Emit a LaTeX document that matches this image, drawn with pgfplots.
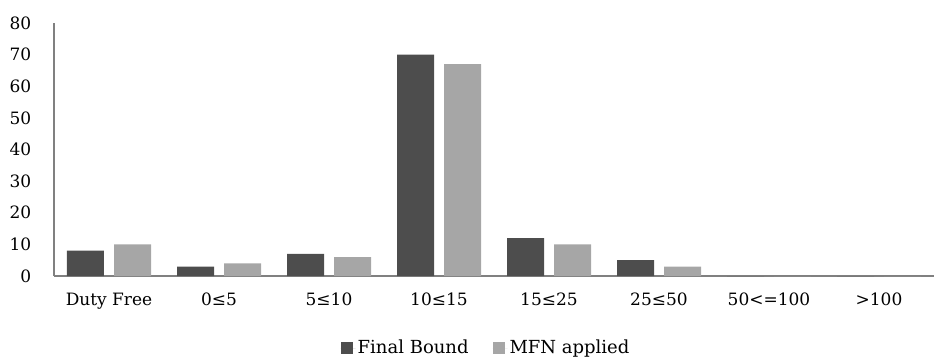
\documentclass[border=0pt]{standalone}
\usepackage{fontspec}
\setmainfont{DejaVu Serif}
\usepackage{pgfplots}
\pgfplotsset{compat=1.18}

\definecolor{darkbar}{HTML}{4D4D4D}
\definecolor{lightbar}{HTML}{A6A6A6}
\definecolor{axisgray}{HTML}{808080}

\begin{document}
\fontsize{17pt}{20pt}\selectfont
\begin{tikzpicture}
\begin{axis}[
  scale only axis,
  width=880pt, height=253pt,
  xmin=-0.5, xmax=7.5,
  ymin=0, ymax=80,
  ytick={0,10,...,80},
  xtick={0,...,7},
  xticklabels={Duty Free,0≤5,5≤10,10≤15,15≤25,25≤50,50<=100,>100},
  axis x line*=bottom,
  axis y line*=left,
  axis line style={draw=axisgray, line width=1.5pt, -},
  major tick length=0pt,
  tick style={draw=none},
  /pgf/number format/assume math mode=true,
  ticklabel style={font=\fontsize{17pt}{20pt}\selectfont},
  yticklabel style={xshift=-17pt},
  xticklabel style={yshift=-11pt},
  ybar=10pt,
  bar width=37pt,
  clip=false,
  legend columns=2,
  legend style={draw=none, fill=none, at={(0.491,-0.285)}, anchor=center,
    font=\fontsize{18pt}{21pt}\selectfont,
    /tikz/every even column/.append style={column sep=22pt}},
  legend image code/.code={%
    \fill[#1,draw=none] (0pt,-5.5pt) rectangle (12pt,6pt);
    \path (0pt,0pt) -- (15pt,0pt);},
]
\addplot[fill=darkbar, draw=none] coordinates {
  (0,8) (1,3) (2,7) (3,70) (4,12) (5,5) (6,0) (7,0)};
\addplot[fill=lightbar, draw=none] coordinates {
  (0,10) (1,4) (2,6) (3,67) (4,10) (5,3) (6,0) (7,0)};
\legend{Final Bound, MFN applied}
\coordinate (o) at (rel axis cs:0,0);
\end{axis}
\pgfresetboundingbox
\path (o) ++(-54pt,-81pt) rectangle ++(934pt,357pt);
\end{tikzpicture}
\end{document}
